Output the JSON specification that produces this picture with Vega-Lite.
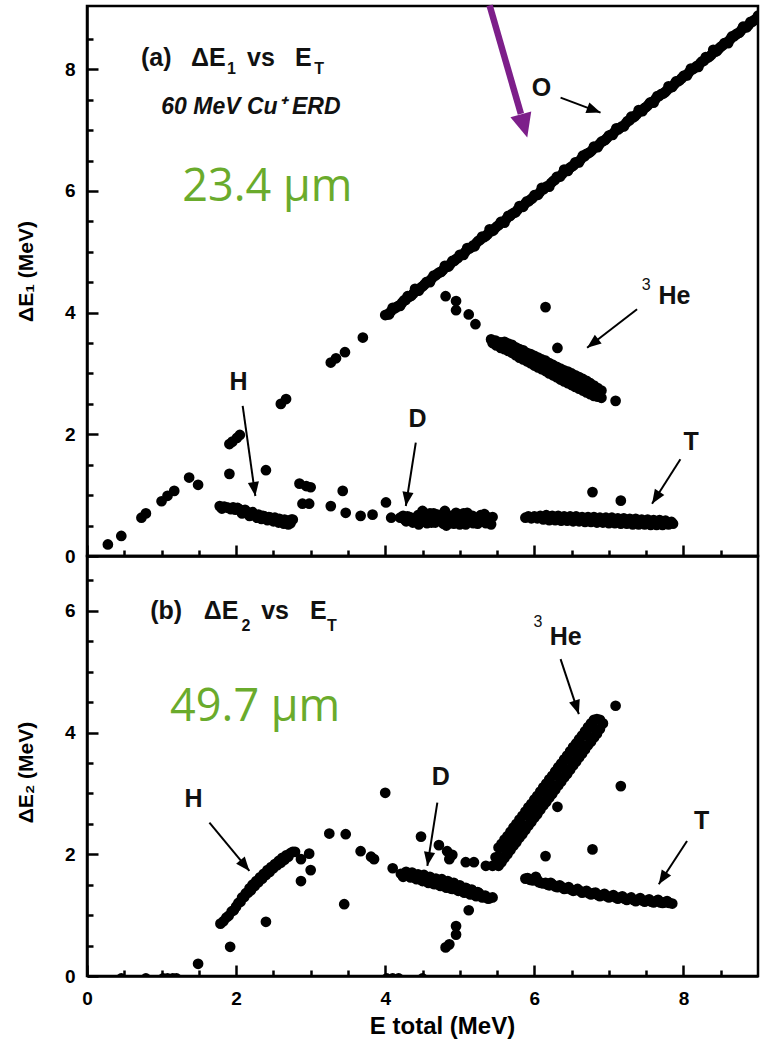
{
"$schema": "https://vega.github.io/schema/vega-lite/v6.json",
"padding": {"left": 14, "top": 0, "right": 5, "bottom": 0},
"spacing": 0,
"bounds": "flush",
"config": {
  "view": {"stroke": "black", "strokeWidth": 2.5},
  "font": "Liberation Sans",
  "axis": {"grid": false, "domainColor": "black", "domainWidth": 2.5, "tickColor": "black", "tickWidth": 2.5, "labelColor": "black", "labelFont": "Liberation Sans", "labelFontWeight": "bold", "labelFontSize": 19, "titleFont": "Liberation Sans", "titleFontWeight": "bold", "titleFontSize": 21, "titleColor": "black", "labelFlush": false, "labelOverlap": false, "zindex": 1}
},
"datasets": {
  "pa": [
    {"x":0.28,"y":0.19},{"x":0.46,"y":0.33},{"x":0.73,"y":0.63},{"x":0.79,"y":0.70},{"x":1.00,"y":0.90},{"x":1.08,"y":0.99},{"x":1.17,"y":1.07},{"x":1.37,"y":1.29},{"x":1.49,"y":1.17},{"x":1.91,"y":1.35},{"x":1.91,"y":1.84},{"x":1.95,"y":1.88},{"x":2.01,"y":1.94},{"x":2.05,"y":1.99},{"x":2.40,"y":1.41},{"x":2.60,"y":2.50},{"x":2.67,"y":2.58},{"x":2.85,"y":1.19},{"x":2.94,"y":1.15},{"x":3.00,"y":1.13},{"x":2.89,"y":0.86},{"x":2.98,"y":0.86},{"x":3.27,"y":3.18},{"x":3.34,"y":3.25},{"x":3.46,"y":3.35},{"x":3.70,"y":3.59},{"x":3.27,"y":0.82},{"x":3.43,"y":1.07},{"x":3.47,"y":0.71},{"x":3.67,"y":0.66},{"x":3.83,"y":0.68},{"x":4.01,"y":0.88},{"x":4.08,"y":0.63},
    {"x":4.81,"y":4.27},{"x":4.95,"y":4.19},{"x":4.95,"y":4.04},{"x":5.12,"y":3.97},{"x":5.21,"y":3.81},
    {"x":4.00,"y":3.96},{"x":4.05,"y":3.97},{"x":4.10,"y":4.08},{"x":4.15,"y":4.09},{"x":4.20,"y":4.11},{"x":4.25,"y":4.20},{"x":4.30,"y":4.27},{"x":4.35,"y":4.28},{"x":4.40,"y":4.39},{"x":4.45,"y":4.36},{"x":4.50,"y":4.43},{"x":4.55,"y":4.50},{"x":4.60,"y":4.50},{"x":4.65,"y":4.61},{"x":4.70,"y":4.64},{"x":4.75,"y":4.67},{"x":4.80,"y":4.77},{"x":4.85,"y":4.76},{"x":4.90,"y":4.85},{"x":4.95,"y":4.88},
    {"x":5.00,"y":4.95},{"x":5.05,"y":4.95},{"x":5.10,"y":5.06},{"x":5.15,"y":5.07},{"x":5.20,"y":5.09},{"x":5.25,"y":5.18},{"x":5.30,"y":5.25},{"x":5.35,"y":5.26},{"x":5.40,"y":5.37},{"x":5.45,"y":5.35},{"x":5.50,"y":5.42},{"x":5.55,"y":5.49},{"x":5.60,"y":5.48},{"x":5.65,"y":5.59},{"x":5.70,"y":5.62},{"x":5.75,"y":5.65},{"x":5.80,"y":5.75},{"x":5.85,"y":5.74},{"x":5.90,"y":5.83},{"x":5.95,"y":5.86},
    {"x":6.00,"y":5.93},{"x":6.05,"y":5.94},{"x":6.10,"y":6.05},{"x":6.15,"y":6.06},{"x":6.20,"y":6.07},{"x":6.25,"y":6.16},{"x":6.30,"y":6.23},{"x":6.35,"y":6.24},{"x":6.40,"y":6.35},{"x":6.45,"y":6.33},{"x":6.50,"y":6.40},{"x":6.55,"y":6.47},{"x":6.60,"y":6.47},{"x":6.65,"y":6.58},{"x":6.70,"y":6.61},{"x":6.75,"y":6.64},{"x":6.80,"y":6.73},{"x":6.85,"y":6.72},{"x":6.90,"y":6.81},{"x":6.95,"y":6.84},
    {"x":7.00,"y":6.91},{"x":7.05,"y":6.92},{"x":7.10,"y":7.03},{"x":7.15,"y":7.04},{"x":7.20,"y":7.06},{"x":7.25,"y":7.15},{"x":7.30,"y":7.22},{"x":7.35,"y":7.23},{"x":7.40,"y":7.33},{"x":7.45,"y":7.31},{"x":7.50,"y":7.38},{"x":7.55,"y":7.45},{"x":7.60,"y":7.45},{"x":7.65,"y":7.56},{"x":7.70,"y":7.59},{"x":7.75,"y":7.62},{"x":7.80,"y":7.72},{"x":7.85,"y":7.71},{"x":7.90,"y":7.80},{"x":7.95,"y":7.82},
    {"x":8.00,"y":7.89},{"x":8.05,"y":7.90},{"x":8.10,"y":8.01},{"x":8.15,"y":8.02},{"x":8.20,"y":8.04},{"x":8.25,"y":8.13},{"x":8.30,"y":8.20},{"x":8.35,"y":8.21},{"x":8.40,"y":8.32},{"x":8.45,"y":8.30},{"x":8.50,"y":8.37},{"x":8.55,"y":8.43},{"x":8.60,"y":8.43},{"x":8.65,"y":8.54},{"x":8.70,"y":8.57},{"x":8.75,"y":8.60},{"x":8.80,"y":8.70},{"x":8.85,"y":8.69},{"x":8.90,"y":8.78},{"x":8.95,"y":8.81},{"x":9.00,"y":8.88},
    {"x":4.025,"y":3.97},{"x":4.075,"y":4.02},{"x":4.125,"y":4.07},{"x":4.175,"y":4.11},{"x":4.225,"y":4.16},{"x":4.275,"y":4.21},{"x":4.325,"y":4.26},{"x":4.375,"y":4.31},{"x":4.425,"y":4.36},{"x":4.475,"y":4.41},{"x":4.525,"y":4.46},{"x":4.575,"y":4.51},{"x":4.625,"y":4.56},{"x":4.675,"y":4.61},{"x":4.725,"y":4.66},{"x":4.775,"y":4.70},{"x":4.825,"y":4.75},{"x":4.875,"y":4.80},{"x":4.925,"y":4.85},{"x":4.975,"y":4.90},
    {"x":5.025,"y":4.95},{"x":5.075,"y":5.00},{"x":5.125,"y":5.05},{"x":5.175,"y":5.10},{"x":5.225,"y":5.15},{"x":5.275,"y":5.20},{"x":5.325,"y":5.24},{"x":5.375,"y":5.29},{"x":5.425,"y":5.34},{"x":5.475,"y":5.39},{"x":5.525,"y":5.44},{"x":5.575,"y":5.49},{"x":5.625,"y":5.54},{"x":5.675,"y":5.59},{"x":5.725,"y":5.64},{"x":5.775,"y":5.69},{"x":5.825,"y":5.74},{"x":5.875,"y":5.79},{"x":5.925,"y":5.83},{"x":5.975,"y":5.88},
    {"x":6.025,"y":5.93},{"x":6.075,"y":5.98},{"x":6.125,"y":6.03},{"x":6.175,"y":6.08},{"x":6.225,"y":6.13},{"x":6.275,"y":6.18},{"x":6.325,"y":6.23},{"x":6.375,"y":6.28},{"x":6.425,"y":6.33},{"x":6.475,"y":6.38},{"x":6.525,"y":6.42},{"x":6.575,"y":6.47},{"x":6.625,"y":6.52},{"x":6.675,"y":6.57},{"x":6.725,"y":6.62},{"x":6.775,"y":6.67},{"x":6.825,"y":6.72},{"x":6.875,"y":6.77},{"x":6.925,"y":6.82},{"x":6.975,"y":6.87},
    {"x":7.025,"y":6.92},{"x":7.075,"y":6.97},{"x":7.125,"y":7.01},{"x":7.175,"y":7.06},{"x":7.225,"y":7.11},{"x":7.275,"y":7.16},{"x":7.325,"y":7.21},{"x":7.375,"y":7.26},{"x":7.425,"y":7.31},{"x":7.475,"y":7.36},{"x":7.525,"y":7.41},{"x":7.575,"y":7.46},{"x":7.625,"y":7.51},{"x":7.675,"y":7.56},{"x":7.725,"y":7.60},{"x":7.775,"y":7.65},{"x":7.825,"y":7.70},{"x":7.875,"y":7.75},{"x":7.925,"y":7.80},{"x":7.975,"y":7.85},
    {"x":8.025,"y":7.90},{"x":8.075,"y":7.95},{"x":8.125,"y":8.00},{"x":8.175,"y":8.05},{"x":8.225,"y":8.10},{"x":8.275,"y":8.14},{"x":8.325,"y":8.19},{"x":8.375,"y":8.24},{"x":8.425,"y":8.29},{"x":8.475,"y":8.34},{"x":8.525,"y":8.39},{"x":8.575,"y":8.44},{"x":8.625,"y":8.49},{"x":8.675,"y":8.54},{"x":8.725,"y":8.59},{"x":8.775,"y":8.64},{"x":8.825,"y":8.69},{"x":8.875,"y":8.73},{"x":8.925,"y":8.78},{"x":8.975,"y":8.83},
    {"x":1.78,"y":0.82},{"x":1.84,"y":0.81},{"x":1.90,"y":0.79},{"x":1.96,"y":0.80},{"x":2.02,"y":0.79},{"x":2.06,"y":0.74},{"x":2.10,"y":0.72},{"x":2.12,"y":0.76},{"x":2.16,"y":0.70},{"x":2.20,"y":0.68},{"x":2.22,"y":0.72},{"x":2.26,"y":0.66},{"x":2.30,"y":0.68},{"x":2.32,"y":0.64},{"x":2.36,"y":0.66},{"x":2.40,"y":0.62},{"x":2.44,"y":0.64},{"x":2.48,"y":0.60},{"x":2.52,"y":0.63},{"x":2.55,"y":0.58},{"x":2.58,"y":0.61},{"x":2.62,"y":0.56},{"x":2.65,"y":0.60},{"x":2.68,"y":0.55},{"x":2.72,"y":0.58},{"x":2.76,"y":0.60},{"x":2.70,"y":0.52},
    {"x":1.81,"y":0.78},{"x":1.87,"y":0.80},{"x":1.93,"y":0.77},{"x":1.99,"y":0.76},{"x":2.04,"y":0.77},{"x":2.08,"y":0.70},{"x":2.14,"y":0.73},{"x":2.18,"y":0.66},{"x":2.24,"y":0.69},{"x":2.28,"y":0.63},{"x":2.34,"y":0.61},{"x":2.38,"y":0.65},{"x":2.42,"y":0.59},{"x":2.46,"y":0.63},{"x":2.50,"y":0.57},{"x":2.54,"y":0.61},{"x":2.57,"y":0.55},{"x":2.60,"y":0.59},{"x":2.64,"y":0.53},{"x":2.67,"y":0.58},{"x":2.73,"y":0.54},{"x":2.74,"y":0.60},
    {"x":4.20,"y":0.63},{"x":4.26,"y":0.60},{"x":4.30,"y":0.65},{"x":4.35,"y":0.58},{"x":4.40,"y":0.62},{"x":4.44,"y":0.67},{"x":4.48,"y":0.56},{"x":4.50,"y":0.74},{"x":4.54,"y":0.60},{"x":4.58,"y":0.64},{"x":4.62,"y":0.55},{"x":4.65,"y":0.70},{"x":4.70,"y":0.59},{"x":4.74,"y":0.63},{"x":4.78,"y":0.53},{"x":4.80,"y":0.74},{"x":4.84,"y":0.60},{"x":4.88,"y":0.66},{"x":4.92,"y":0.53},{"x":4.95,"y":0.71},{"x":5.00,"y":0.60},{"x":5.04,"y":0.64},{"x":5.08,"y":0.52},{"x":5.10,"y":0.71},{"x":5.15,"y":0.58},{"x":5.20,"y":0.63},{"x":5.24,"y":0.53},{"x":5.28,"y":0.67},{"x":5.33,"y":0.58},{"x":5.37,"y":0.64},{"x":5.42,"y":0.52},{"x":5.44,"y":0.64},{"x":4.45,"y":0.52},{"x":4.70,"y":0.68},{"x":5.00,"y":0.52},{"x":4.60,"y":0.70},
    {"x":4.24,"y":0.66},{"x":4.28,"y":0.57},{"x":4.33,"y":0.64},{"x":4.37,"y":0.55},{"x":4.42,"y":0.57},{"x":4.46,"y":0.62},{"x":4.52,"y":0.66},{"x":4.56,"y":0.54},{"x":4.60,"y":0.60},{"x":4.64,"y":0.63},{"x":4.67,"y":0.55},{"x":4.72,"y":0.66},{"x":4.76,"y":0.58},{"x":4.82,"y":0.66},{"x":4.86,"y":0.54},{"x":4.90,"y":0.62},{"x":4.94,"y":0.58},{"x":4.98,"y":0.66},{"x":5.02,"y":0.55},{"x":5.06,"y":0.60},{"x":5.12,"y":0.63},{"x":5.17,"y":0.66},{"x":5.18,"y":0.54},{"x":5.22,"y":0.60},{"x":5.26,"y":0.58},{"x":5.30,"y":0.62},{"x":5.35,"y":0.54},{"x":5.40,"y":0.60},{"x":4.55,"y":0.69},{"x":5.05,"y":0.70},{"x":5.33,"y":0.69},{"x":4.82,"y":0.50},
    {"x":5.88,"y":0.63},{"x":5.92,"y":0.65},{"x":5.96,"y":0.62},{"x":6.00,"y":0.65},{"x":6.04,"y":0.62},{"x":6.08,"y":0.66},{"x":6.12,"y":0.60},{"x":6.16,"y":0.67},{"x":6.20,"y":0.59},{"x":6.24,"y":0.66},{"x":6.28,"y":0.59},{"x":6.32,"y":0.66},{"x":6.36,"y":0.58},{"x":6.40,"y":0.65},{"x":6.44,"y":0.58},{"x":6.48,"y":0.65},{"x":6.52,"y":0.57},{"x":6.56,"y":0.65},{"x":6.60,"y":0.57},{"x":6.64,"y":0.64},{"x":6.68,"y":0.56},{"x":6.72,"y":0.64},{"x":6.76,"y":0.56},{"x":6.80,"y":0.64},{"x":6.84,"y":0.55},{"x":6.88,"y":0.63},{"x":6.92,"y":0.55},{"x":6.96,"y":0.63},{"x":7.00,"y":0.54},{"x":7.04,"y":0.63},{"x":7.08,"y":0.54},{"x":7.12,"y":0.62},{"x":7.16,"y":0.53},{"x":7.20,"y":0.62},{"x":7.24,"y":0.53},{"x":7.28,"y":0.61},{"x":7.32,"y":0.52},{"x":7.36,"y":0.61},{"x":7.40,"y":0.52},{"x":7.44,"y":0.60},{"x":7.48,"y":0.52},{"x":7.52,"y":0.60},{"x":7.56,"y":0.51},{"x":7.60,"y":0.59},{"x":7.64,"y":0.51},{"x":7.68,"y":0.59},{"x":7.72,"y":0.51},{"x":7.76,"y":0.58},{"x":7.80,"y":0.52},{"x":7.84,"y":0.56},{"x":7.86,"y":0.53},{"x":6.78,"y":1.05},{"x":7.16,"y":0.91},
    {"x":5.42,"y":3.56},{"x":5.44,"y":3.50},{"x":5.48,"y":3.54},{"x":5.49,"y":3.46},{"x":5.55,"y":3.51},{"x":5.55,"y":3.42},{"x":5.60,"y":3.52},{"x":5.60,"y":3.40},{"x":5.60,"y":3.46},{"x":5.65,"y":3.49},{"x":5.65,"y":3.37},{"x":5.70,"y":3.47},{"x":5.70,"y":3.34},{"x":5.70,"y":3.40},{"x":5.75,"y":3.43},{"x":5.75,"y":3.30},{"x":5.80,"y":3.40},{"x":5.80,"y":3.26},{"x":5.80,"y":3.33},{"x":5.85,"y":3.38},{"x":5.85,"y":3.23},{"x":5.90,"y":3.34},{"x":5.90,"y":3.20},{"x":5.90,"y":3.27},{"x":5.95,"y":3.32},{"x":5.95,"y":3.17},{"x":6.00,"y":3.29},{"x":6.00,"y":3.13},{"x":6.00,"y":3.21},{"x":6.05,"y":3.26},{"x":6.05,"y":3.10},{"x":6.10,"y":3.23},{"x":6.10,"y":3.07},{"x":6.10,"y":3.15},{"x":6.15,"y":3.21},{"x":6.15,"y":3.04},{"x":6.20,"y":3.17},{"x":6.20,"y":3.00},{"x":6.20,"y":3.09},{"x":6.25,"y":3.14},{"x":6.25,"y":2.97},{"x":6.30,"y":3.11},{"x":6.30,"y":2.94},{"x":6.30,"y":3.02},{"x":6.35,"y":3.08},{"x":6.35,"y":2.90},{"x":6.40,"y":3.05},{"x":6.40,"y":2.87},{"x":6.40,"y":2.96},{"x":6.45,"y":3.03},{"x":6.45,"y":2.84},{"x":6.50,"y":3.00},{"x":6.50,"y":2.81},{"x":6.50,"y":2.90},{"x":6.55,"y":2.97},{"x":6.55,"y":2.78},{"x":6.60,"y":2.94},{"x":6.60,"y":2.75},{"x":6.60,"y":2.84},{"x":6.65,"y":2.91},{"x":6.65,"y":2.72},{"x":6.70,"y":2.88},{"x":6.70,"y":2.69},{"x":6.70,"y":2.78},{"x":6.75,"y":2.84},{"x":6.75,"y":2.66},{"x":6.80,"y":2.80},{"x":6.80,"y":2.63},{"x":6.85,"y":2.76},{"x":6.85,"y":2.62},{"x":6.90,"y":2.72},{"x":6.90,"y":2.60},{"x":7.09,"y":2.55},{"x":6.15,"y":4.09},{"x":6.31,"y":3.42}
  ],
  "pb": [
    {"x":0.46,"y":-0.04},{"x":0.79,"y":-0.04},{"x":1.02,"y":-0.04},{"x":1.08,"y":-0.04},{"x":1.15,"y":-0.04},{"x":1.20,"y":-0.04},{"x":4.02,"y":-0.04},{"x":4.10,"y":-0.04},{"x":4.18,"y":-0.04},{"x":4.50,"y":-0.04},
    {"x":1.49,"y":0.20},{"x":1.92,"y":0.48},{"x":2.40,"y":0.89},{"x":2.87,"y":1.92},{"x":2.98,"y":2.01},{"x":2.87,"y":1.56},{"x":3.00,"y":1.74},{"x":3.25,"y":2.34},{"x":3.47,"y":2.33},{"x":3.45,"y":1.18},{"x":3.67,"y":2.05},{"x":3.81,"y":1.96},{"x":3.85,"y":1.92},{"x":4.00,"y":3.01},{"x":4.10,"y":1.77},{"x":4.48,"y":2.29},{"x":4.72,"y":2.15},{"x":4.83,"y":2.05},{"x":4.90,"y":1.99},{"x":4.86,"y":1.92},{"x":5.08,"y":1.87},{"x":5.19,"y":1.87},{"x":5.35,"y":1.81},{"x":5.44,"y":1.81},{"x":5.12,"y":1.08},{"x":4.95,"y":0.82},{"x":4.95,"y":0.68},{"x":4.81,"y":0.47},{"x":4.86,"y":0.52},{"x":6.15,"y":1.97},{"x":6.31,"y":2.78},{"x":6.78,"y":2.08},{"x":7.16,"y":3.12},{"x":7.09,"y":4.44},
    {"x":1.79,"y":0.86},{"x":1.83,"y":0.90},{"x":1.87,"y":0.96},{"x":1.90,"y":0.99},{"x":1.94,"y":1.06},{"x":1.97,"y":1.08},{"x":2.00,"y":1.14},{"x":2.03,"y":1.20},{"x":2.06,"y":1.22},{"x":2.08,"y":1.29},{"x":2.11,"y":1.30},{"x":2.13,"y":1.36},{"x":2.16,"y":1.37},{"x":2.18,"y":1.44},{"x":2.20,"y":1.41},{"x":2.22,"y":1.50},{"x":2.25,"y":1.48},{"x":2.27,"y":1.56},{"x":2.30,"y":1.54},{"x":2.32,"y":1.62},{"x":2.35,"y":1.60},{"x":2.37,"y":1.68},{"x":2.40,"y":1.66},{"x":2.42,"y":1.74},{"x":2.45,"y":1.71},{"x":2.47,"y":1.79},{"x":2.50,"y":1.77},{"x":2.52,"y":1.84},{"x":2.55,"y":1.82},{"x":2.57,"y":1.89},{"x":2.60,"y":1.86},{"x":2.62,"y":1.94},{"x":2.65,"y":1.91},{"x":2.67,"y":1.98},{"x":2.70,"y":1.96},{"x":2.73,"y":2.02},{"x":2.76,"y":2.04},{"x":2.79,"y":2.04},
    {"x":4.21,"y":1.68},{"x":4.26,"y":1.66},{"x":4.30,"y":1.69},{"x":4.34,"y":1.62},{"x":4.38,"y":1.66},{"x":4.42,"y":1.59},{"x":4.46,"y":1.64},{"x":4.50,"y":1.56},{"x":4.54,"y":1.62},{"x":4.58,"y":1.53},{"x":4.62,"y":1.60},{"x":4.66,"y":1.51},{"x":4.70,"y":1.57},{"x":4.74,"y":1.48},{"x":4.78,"y":1.55},{"x":4.82,"y":1.45},{"x":4.86,"y":1.52},{"x":4.90,"y":1.43},{"x":4.94,"y":1.49},{"x":4.98,"y":1.40},{"x":5.02,"y":1.46},{"x":5.06,"y":1.37},{"x":5.10,"y":1.43},{"x":5.14,"y":1.34},{"x":5.18,"y":1.39},{"x":5.22,"y":1.31},{"x":5.26,"y":1.36},{"x":5.30,"y":1.29},{"x":5.34,"y":1.32},{"x":5.38,"y":1.27},{"x":5.44,"y":1.29},
    {"x":4.24,"y":1.63},{"x":4.28,"y":1.71},{"x":4.32,"y":1.64},{"x":4.36,"y":1.70},{"x":4.40,"y":1.61},{"x":4.44,"y":1.67},{"x":4.48,"y":1.58},{"x":4.52,"y":1.66},{"x":4.56,"y":1.55},{"x":4.60,"y":1.63},{"x":4.64,"y":1.52},{"x":4.68,"y":1.60},{"x":4.72,"y":1.50},{"x":4.76,"y":1.59},{"x":4.80,"y":1.47},{"x":4.84,"y":1.56},{"x":4.88,"y":1.44},{"x":4.92,"y":1.53},{"x":4.96,"y":1.42},{"x":5.00,"y":1.49},{"x":5.04,"y":1.39},{"x":5.08,"y":1.45},{"x":5.12,"y":1.37},{"x":5.16,"y":1.42},{"x":5.20,"y":1.33},{"x":5.24,"y":1.38},{"x":5.28,"y":1.32},{"x":5.32,"y":1.30},{"x":5.36,"y":1.29},{"x":5.40,"y":1.28},
    {"x":5.48,"y":1.95},{"x":5.48,"y":1.83},{"x":5.52,"y":2.11},{"x":5.52,"y":1.81},{"x":5.52,"y":1.96},{"x":5.56,"y":2.17},{"x":5.56,"y":1.87},{"x":5.60,"y":2.24},{"x":5.60,"y":1.94},{"x":5.60,"y":2.09},{"x":5.64,"y":2.30},{"x":5.64,"y":2.00},{"x":5.68,"y":2.37},{"x":5.68,"y":2.07},{"x":5.68,"y":2.22},{"x":5.72,"y":2.44},{"x":5.72,"y":2.14},{"x":5.76,"y":2.50},{"x":5.76,"y":2.20},{"x":5.76,"y":2.35},{"x":5.80,"y":2.57},{"x":5.80,"y":2.27},{"x":5.84,"y":2.63},{"x":5.84,"y":2.33},{"x":5.84,"y":2.48},{"x":5.88,"y":2.70},{"x":5.88,"y":2.40},{"x":5.92,"y":2.77},{"x":5.92,"y":2.47},{"x":5.92,"y":2.62},{"x":5.96,"y":2.83},{"x":5.96,"y":2.53},{"x":6.00,"y":2.90},{"x":6.00,"y":2.60},{"x":6.00,"y":2.75},{"x":6.04,"y":2.96},{"x":6.04,"y":2.66},{"x":6.08,"y":3.03},{"x":6.08,"y":2.73},{"x":6.08,"y":2.88},{"x":6.12,"y":3.10},{"x":6.12,"y":2.80},{"x":6.16,"y":3.16},{"x":6.16,"y":2.86},{"x":6.16,"y":3.01},{"x":6.20,"y":3.23},{"x":6.20,"y":2.93},{"x":6.24,"y":3.29},{"x":6.24,"y":2.99},{"x":6.24,"y":3.14},{"x":6.28,"y":3.36},{"x":6.28,"y":3.06},{"x":6.32,"y":3.43},{"x":6.32,"y":3.13},{"x":6.32,"y":3.28},{"x":6.36,"y":3.49},{"x":6.36,"y":3.19},{"x":6.40,"y":3.56},{"x":6.40,"y":3.26},{"x":6.40,"y":3.41},{"x":6.44,"y":3.62},{"x":6.44,"y":3.32},{"x":6.48,"y":3.69},{"x":6.48,"y":3.39},{"x":6.48,"y":3.54},{"x":6.52,"y":3.76},{"x":6.52,"y":3.46},{"x":6.56,"y":3.82},{"x":6.56,"y":3.52},{"x":6.56,"y":3.67},{"x":6.60,"y":3.89},{"x":6.60,"y":3.59},{"x":6.64,"y":3.95},{"x":6.64,"y":3.65},{"x":6.64,"y":3.80},{"x":6.68,"y":4.02},{"x":6.68,"y":3.72},{"x":6.72,"y":4.09},{"x":6.72,"y":3.79},{"x":6.72,"y":3.94},{"x":6.76,"y":4.15},{"x":6.76,"y":3.85},{"x":6.80,"y":4.21},{"x":6.80,"y":3.92},{"x":6.80,"y":4.07},{"x":6.84,"y":4.22},{"x":6.84,"y":3.98},{"x":6.88,"y":4.21},{"x":6.88,"y":4.06},{"x":6.92,"y":4.15},
    {"x":5.88,"y":1.60},{"x":5.94,"y":1.58},{"x":6.02,"y":1.63},{"x":6.06,"y":1.54},{"x":6.12,"y":1.52},{"x":6.18,"y":1.50},{"x":6.22,"y":1.53},{"x":6.28,"y":1.47},{"x":6.34,"y":1.49},{"x":6.40,"y":1.43},{"x":6.46,"y":1.46},{"x":6.52,"y":1.40},{"x":6.58,"y":1.43},{"x":6.64,"y":1.37},{"x":6.70,"y":1.40},{"x":6.76,"y":1.34},{"x":6.82,"y":1.37},{"x":6.88,"y":1.31},{"x":6.94,"y":1.35},{"x":7.00,"y":1.29},{"x":7.06,"y":1.33},{"x":7.12,"y":1.27},{"x":7.18,"y":1.31},{"x":7.24,"y":1.25},{"x":7.30,"y":1.29},{"x":7.36,"y":1.23},{"x":7.42,"y":1.28},{"x":7.48,"y":1.22},{"x":7.54,"y":1.26},{"x":7.60,"y":1.21},{"x":7.66,"y":1.25},{"x":7.72,"y":1.20},{"x":7.78,"y":1.23},{"x":7.85,"y":1.19},
    {"x":5.91,"y":1.61},{"x":5.98,"y":1.57},{"x":6.04,"y":1.58},{"x":6.09,"y":1.53},{"x":6.15,"y":1.53},{"x":6.20,"y":1.49},{"x":6.25,"y":1.50},{"x":6.31,"y":1.46},{"x":6.37,"y":1.46},{"x":6.43,"y":1.44},{"x":6.49,"y":1.42},{"x":6.55,"y":1.41},{"x":6.61,"y":1.40},{"x":6.67,"y":1.38},{"x":6.73,"y":1.36},{"x":6.79,"y":1.36},{"x":6.85,"y":1.33},{"x":6.91,"y":1.33},{"x":6.97,"y":1.31},{"x":7.03,"y":1.31},{"x":7.09,"y":1.29},{"x":7.15,"y":1.29},{"x":7.21,"y":1.27},{"x":7.27,"y":1.27},{"x":7.33,"y":1.25},{"x":7.39,"y":1.25},{"x":7.45,"y":1.24},{"x":7.51,"y":1.24},{"x":7.57,"y":1.22},{"x":7.63,"y":1.23},{"x":7.69,"y":1.21},{"x":7.75,"y":1.21},{"x":7.81,"y":1.20}
  ],
  "arr_a": [
    {"x":6.352,"y":7.534,"x2":6.888,"y2":7.288,"a":110.6},
    {"x":7.378,"y":4.056,"x2":6.708,"y2":3.424,"a":232.5},
    {"x":2.088,"y":2.466,"x2":2.258,"y2":0.986,"a":172},
    {"x":4.410,"y":1.863,"x2":4.276,"y2":0.822,"a":189},
    {"x":7.959,"y":1.590,"x2":7.579,"y2":0.860,"a":212.6}
  ],
  "pur": [{"x":5.40,"y":9.05,"x2":5.820,"y2":7.266,"hx":5.905,"hy":6.877,"a":164.5}],
  "arr_b": [
    {"x":6.352,"y":5.206,"x2":6.597,"y2":4.302,"a":161.6},
    {"x":4.699,"y":2.849,"x2":4.565,"y2":1.808,"a":189},
    {"x":1.642,"y":2.520,"x2":2.178,"y2":1.726,"a":140.4},
    {"x":8.048,"y":2.219,"x2":7.669,"y2":1.507,"a":213.2}
  ],
  "ta_main": [{"x":0.928,"y":8.055,"t":"(a)"},{"x":1.629,"y":8.055,"t":"ΔE"},{"x":2.334,"y":8.055,"t":"vs"},{"x":2.903,"y":8.055,"t":"E"}],
  "ta_sub": [{"x":1.939,"y":7.919,"t":"1"},{"x":3.115,"y":7.919,"t":"T"}],
  "ta_it": [{"x":2.198,"y":7.271,"t":"60 MeV Cu⁺ ERD"}],
  "ta_g": [{"x":2.419,"y":5.836,"t":"23.4 µm"}],
  "ta_sp": [{"x":6.095,"y":7.70,"t":"O"},{"x":2.033,"y":2.864,"t":"H"},{"x":4.432,"y":2.26,"t":"D"},{"x":8.104,"y":1.877,"t":"T"},{"x":7.88,"y":4.27,"t":"He"}],
  "ta_sup": [{"x":7.50,"y":4.455,"t":"3"}],
  "tb_main": [{"x":1.062,"y":5.864,"t":"(b)"},{"x":1.799,"y":5.864,"t":"ΔE"},{"x":2.523,"y":5.864,"t":"vs"},{"x":3.102,"y":5.864,"t":"E"}],
  "tb_sub": [{"x":2.133,"y":5.672,"t":"2"},{"x":3.283,"y":5.672,"t":"T"}],
  "tb_g": [{"x":2.256,"y":4.19,"t":"49.7 µm"}],
  "tb_sp": [{"x":4.745,"y":3.27,"t":"D"},{"x":1.428,"y":2.90,"t":"H"},{"x":8.245,"y":2.55,"t":"T"},{"x":6.42,"y":5.565,"t":"He"}],
  "tb_sup": [{"x":6.05,"y":5.81,"t":"3"}]
},
"vconcat": [
  {
    "width": 671, "height": 550,
    "resolve": {"axis": {"x": "independent", "y": "independent"}},
    "layer": [
      {
        "data": {"name": "pa"},
        "mark": {"type": "point", "filled": true, "color": "black", "opacity": 1, "size": 115, "strokeWidth": 0, "clip": true},
        "encoding": {
          "x": {"field": "x", "type": "quantitative", "scale": {"domain": [0, 9], "nice": false, "zero": false}, "axis": {"orient": "bottom", "values": [0,2,4,6,8], "labels": false, "title": null, "tickSize": -11}},
          "y": {"field": "y", "type": "quantitative", "scale": {"domain": [0, 9.04], "nice": false, "zero": false}, "axis": {"orient": "left", "values": [0,2,4,6,8], "title": "ΔE₁ (MeV)", "tickSize": -11, "labelPadding": 23, "titlePadding": 28, "titleY": 265}}
        }
      },
      {
        "data": {"name": "arr_a"},
        "mark": {"type": "rule", "color": "black", "strokeWidth": 2},
        "encoding": {
          "x": {"field": "x", "type": "quantitative", "scale": {"domain": [0, 9], "nice": false, "zero": false}, "axis": {"orient": "bottom", "values": [0.5,1,1.5,2.5,3,3.5,4.5,5,5.5,6.5,7,7.5,8.5], "labels": false, "title": null, "tickSize": -6, "domain": false}},
          "y": {"field": "y", "type": "quantitative", "scale": {"domain": [0, 9.04], "nice": false, "zero": false}, "axis": {"orient": "left", "values": [0.5,1,1.5,2.5,3,3.5,4.5,5,5.5,6.5,7,7.5,8.5], "labels": false, "title": null, "tickSize": -6, "domain": false}},
          "x2": {"field": "x2"},
          "y2": {"field": "y2"}
        }
      },
      {
        "data": {"name": "arr_a"},
        "mark": {"type": "point", "shape": "M0,0 L-0.4,1 L0.4,1 Z", "filled": true, "color": "black", "opacity": 1, "size": 784, "strokeWidth": 0},
        "encoding": {
          "x": {"field": "x2", "type": "quantitative", "scale": {"domain": [0, 9], "nice": false, "zero": false}, "axis": null},
          "y": {"field": "y2", "type": "quantitative", "scale": {"domain": [0, 9.04], "nice": false, "zero": false}, "axis": null},
          "angle": {"field": "a", "type": "quantitative", "scale": null}
        }
      },
      {
        "data": {"name": "pur"},
        "mark": {"type": "rule", "color": "#7d1f8a", "strokeWidth": 6.5},
        "encoding": {
          "x": {"field": "x", "type": "quantitative", "scale": {"domain": [0, 9], "nice": false, "zero": false}, "axis": null},
          "y": {"field": "y", "type": "quantitative", "scale": {"domain": [0, 9.04], "nice": false, "zero": false}, "axis": null},
          "x2": {"field": "x2"},
          "y2": {"field": "y2"}
        }
      },
      {
        "data": {"name": "pur"},
        "mark": {"type": "point", "shape": "M0,0 L-0.45,1 L0.45,1 Z", "filled": true, "color": "#7d1f8a", "opacity": 1, "size": 2304, "strokeWidth": 0},
        "encoding": {
          "x": {"field": "hx", "type": "quantitative", "scale": {"domain": [0, 9], "nice": false, "zero": false}, "axis": null},
          "y": {"field": "hy", "type": "quantitative", "scale": {"domain": [0, 9.04], "nice": false, "zero": false}, "axis": null},
          "angle": {"field": "a", "type": "quantitative", "scale": null}
        }
      },
      {
        "data": {"name": "ta_main"},
        "mark": {"type": "text", "font": "Liberation Sans", "fontWeight": "bold", "fontSize": 25, "align": "center", "baseline": "alphabetic", "color": "#111111"},
        "encoding": {
          "x": {"field": "x", "type": "quantitative", "scale": {"domain": [0, 9], "nice": false, "zero": false}, "axis": null},
          "y": {"field": "y", "type": "quantitative", "scale": {"domain": [0, 9.04], "nice": false, "zero": false}, "axis": null},
          "text": {"field": "t"}
        }
      },
      {
        "data": {"name": "ta_sub"},
        "mark": {"type": "text", "font": "Liberation Sans", "fontWeight": "bold", "fontSize": 16, "align": "center", "baseline": "alphabetic", "color": "#111111"},
        "encoding": {
          "x": {"field": "x", "type": "quantitative", "scale": {"domain": [0, 9], "nice": false, "zero": false}, "axis": null},
          "y": {"field": "y", "type": "quantitative", "scale": {"domain": [0, 9.04], "nice": false, "zero": false}, "axis": null},
          "text": {"field": "t"}
        }
      },
      {
        "data": {"name": "ta_it"},
        "mark": {"type": "text", "font": "Liberation Sans", "fontWeight": "bold", "fontStyle": "italic", "fontSize": 23, "align": "center", "baseline": "alphabetic", "color": "#111111"},
        "encoding": {
          "x": {"field": "x", "type": "quantitative", "scale": {"domain": [0, 9], "nice": false, "zero": false}, "axis": null},
          "y": {"field": "y", "type": "quantitative", "scale": {"domain": [0, 9.04], "nice": false, "zero": false}, "axis": null},
          "text": {"field": "t"}
        }
      },
      {
        "data": {"name": "ta_g"},
        "mark": {"type": "text", "font": "Open Sans", "fontSize": 45, "align": "center", "baseline": "alphabetic", "color": "#6aab2c"},
        "encoding": {
          "x": {"field": "x", "type": "quantitative", "scale": {"domain": [0, 9], "nice": false, "zero": false}, "axis": null},
          "y": {"field": "y", "type": "quantitative", "scale": {"domain": [0, 9.04], "nice": false, "zero": false}, "axis": null},
          "text": {"field": "t"}
        }
      },
      {
        "data": {"name": "ta_sp"},
        "mark": {"type": "text", "font": "Liberation Sans", "fontWeight": "bold", "fontSize": 25, "align": "center", "baseline": "middle", "color": "#111111"},
        "encoding": {
          "x": {"field": "x", "type": "quantitative", "scale": {"domain": [0, 9], "nice": false, "zero": false}, "axis": null},
          "y": {"field": "y", "type": "quantitative", "scale": {"domain": [0, 9.04], "nice": false, "zero": false}, "axis": null},
          "text": {"field": "t"}
        }
      },
      {
        "data": {"name": "ta_sup"},
        "mark": {"type": "text", "font": "Liberation Sans", "fontSize": 16, "align": "center", "baseline": "middle", "color": "#111111"},
        "encoding": {
          "x": {"field": "x", "type": "quantitative", "scale": {"domain": [0, 9], "nice": false, "zero": false}, "axis": null},
          "y": {"field": "y", "type": "quantitative", "scale": {"domain": [0, 9.04], "nice": false, "zero": false}, "axis": null},
          "text": {"field": "t"}
        }
      }
    ]
  },
  {
    "width": 671, "height": 420,
    "resolve": {"axis": {"x": "independent", "y": "independent"}},
    "layer": [
      {
        "data": {"name": "pb"},
        "mark": {"type": "point", "filled": true, "color": "black", "opacity": 1, "size": 115, "strokeWidth": 0, "clip": true},
        "encoding": {
          "x": {"field": "x", "type": "quantitative", "scale": {"domain": [0, 9], "nice": false, "zero": false}, "axis": {"orient": "bottom", "values": [0,2,4,6,8], "title": "E total (MeV)", "titleFontSize": 24, "tickSize": -11, "labelPadding": 24, "titlePadding": 6, "titleX": 355}},
          "y": {"field": "y", "type": "quantitative", "scale": {"domain": [0, 6.9], "nice": false, "zero": false}, "axis": {"orient": "left", "values": [0,2,4,6], "title": "ΔE₂ (MeV)", "tickSize": -11, "labelPadding": 23, "titlePadding": 28, "titleY": 216}}
        }
      },
      {
        "data": {"name": "arr_b"},
        "mark": {"type": "rule", "color": "black", "strokeWidth": 2},
        "encoding": {
          "x": {"field": "x", "type": "quantitative", "scale": {"domain": [0, 9], "nice": false, "zero": false}, "axis": {"orient": "bottom", "values": [0.5,1,1.5,2.5,3,3.5,4.5,5,5.5,6.5,7,7.5,8.5], "labels": false, "title": null, "tickSize": -6, "domain": false}},
          "y": {"field": "y", "type": "quantitative", "scale": {"domain": [0, 6.9], "nice": false, "zero": false}, "axis": {"orient": "left", "values": [0.5,1,1.5,2.5,3,3.5,4.5,5,5.5,6.5], "labels": false, "title": null, "tickSize": -6, "domain": false}},
          "x2": {"field": "x2"},
          "y2": {"field": "y2"}
        }
      },
      {
        "data": {"name": "arr_b"},
        "mark": {"type": "point", "shape": "M0,0 L-0.4,1 L0.4,1 Z", "filled": true, "color": "black", "opacity": 1, "size": 784, "strokeWidth": 0},
        "encoding": {
          "x": {"field": "x2", "type": "quantitative", "scale": {"domain": [0, 9], "nice": false, "zero": false}, "axis": null},
          "y": {"field": "y2", "type": "quantitative", "scale": {"domain": [0, 6.9], "nice": false, "zero": false}, "axis": null},
          "angle": {"field": "a", "type": "quantitative", "scale": null}
        }
      },
      {
        "data": {"name": "tb_main"},
        "mark": {"type": "text", "font": "Liberation Sans", "fontWeight": "bold", "fontSize": 25, "align": "center", "baseline": "alphabetic", "color": "#111111"},
        "encoding": {
          "x": {"field": "x", "type": "quantitative", "scale": {"domain": [0, 9], "nice": false, "zero": false}, "axis": null},
          "y": {"field": "y", "type": "quantitative", "scale": {"domain": [0, 6.9], "nice": false, "zero": false}, "axis": null},
          "text": {"field": "t"}
        }
      },
      {
        "data": {"name": "tb_sub"},
        "mark": {"type": "text", "font": "Liberation Sans", "fontWeight": "bold", "fontSize": 16, "align": "center", "baseline": "alphabetic", "color": "#111111"},
        "encoding": {
          "x": {"field": "x", "type": "quantitative", "scale": {"domain": [0, 9], "nice": false, "zero": false}, "axis": null},
          "y": {"field": "y", "type": "quantitative", "scale": {"domain": [0, 6.9], "nice": false, "zero": false}, "axis": null},
          "text": {"field": "t"}
        }
      },
      {
        "data": {"name": "tb_g"},
        "mark": {"type": "text", "font": "Open Sans", "fontSize": 45, "align": "center", "baseline": "alphabetic", "color": "#6aab2c"},
        "encoding": {
          "x": {"field": "x", "type": "quantitative", "scale": {"domain": [0, 9], "nice": false, "zero": false}, "axis": null},
          "y": {"field": "y", "type": "quantitative", "scale": {"domain": [0, 6.9], "nice": false, "zero": false}, "axis": null},
          "text": {"field": "t"}
        }
      },
      {
        "data": {"name": "tb_sp"},
        "mark": {"type": "text", "font": "Liberation Sans", "fontWeight": "bold", "fontSize": 25, "align": "center", "baseline": "middle", "color": "#111111"},
        "encoding": {
          "x": {"field": "x", "type": "quantitative", "scale": {"domain": [0, 9], "nice": false, "zero": false}, "axis": null},
          "y": {"field": "y", "type": "quantitative", "scale": {"domain": [0, 6.9], "nice": false, "zero": false}, "axis": null},
          "text": {"field": "t"}
        }
      },
      {
        "data": {"name": "tb_sup"},
        "mark": {"type": "text", "font": "Liberation Sans", "fontSize": 16, "align": "center", "baseline": "middle", "color": "#111111"},
        "encoding": {
          "x": {"field": "x", "type": "quantitative", "scale": {"domain": [0, 9], "nice": false, "zero": false}, "axis": null},
          "y": {"field": "y", "type": "quantitative", "scale": {"domain": [0, 6.9], "nice": false, "zero": false}, "axis": null},
          "text": {"field": "t"}
        }
      }
    ]
  }
]
}
